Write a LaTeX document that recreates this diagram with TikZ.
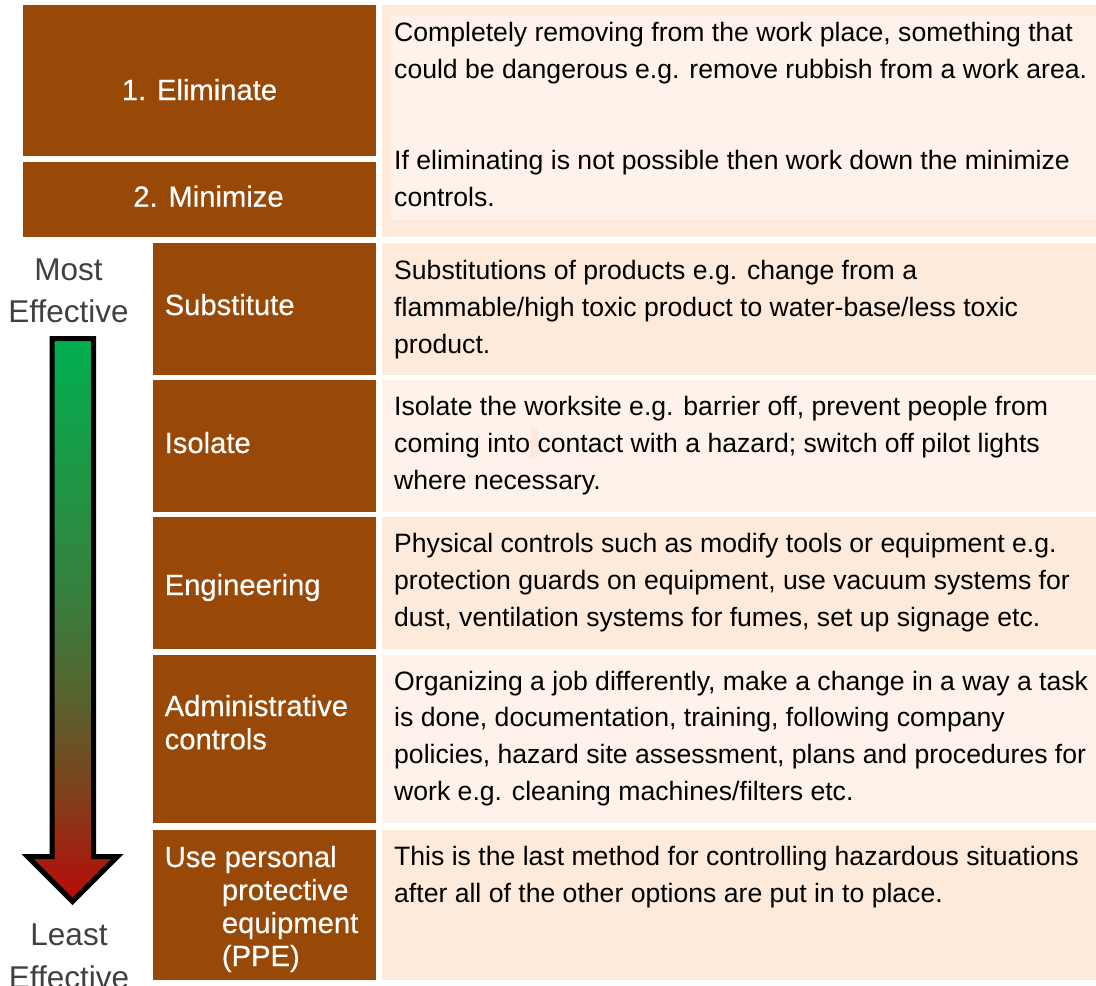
\documentclass[tikz,border=0pt]{standalone}
\usepackage{fontspec}
\setmainfont{Liberation Sans}
\newfontfamily\labfamily[FakeBold=0.4]{Liberation Sans}

\definecolor{ctrlbrown}{HTML}{984807}
\definecolor{banddark}{HTML}{FDEADA}
\definecolor{bandlight}{HTML}{FEF2EA}
\definecolor{sidegray}{HTML}{404040}
\definecolor{effgreen}{RGB}{0,176,80}
\definecolor{effmid}{RGB}{55,128,62}
\definecolor{effolive}{RGB}{90,96,45}
\definecolor{effbrown}{RGB}{125,66,28}
\definecolor{effred}{RGB}{185,10,8}

% green at the top fading through olive and brown to red at the tip
\pgfdeclareverticalshading{effgrad}{100bp}{%
  color(0bp)=(effred); color(25bp)=(effred); color(35bp)=(effbrown);
  color(42.5bp)=(effolive); color(52.5bp)=(effmid);
  color(75bp)=(effgreen); color(100bp)=(effgreen)}

\newcommand\bodyfont{\fontsize{26.6}{37}\selectfont}
\newcommand\labfont{\labfamily\fontsize{29.2}{33}\selectfont}
\newcommand\sidefont{\fontsize{31.5}{42}\selectfont}

% a filled cell given by its corners
\newcommand\cellbox[6]{%
  \node[#6, anchor=north west, minimum width={#4-#2}, minimum height={#5-#3}]
    (#1) at (#2,#3) {};}
% lines of text, one node per line, placed on successive baselines
\newcommand\textlines[6]{%
  \foreach \t [count=\i from 0] in {#6}
    {\node[#5] (#1-\i) at (#2, {#3+\i*#4}) {\t};}}

\begin{document}
\begin{tikzpicture}[x=1pt,y=-1pt,
  cellbase/.style={inner sep=0pt, outer sep=0pt, draw=none},
  brownbox/.style={cellbase, fill=ctrlbrown},
  darkcell/.style={cellbase, fill=banddark},
  lightcell/.style={cellbase, fill=bandlight},
  bodytext/.style={font=\bodyfont, text=black, inner sep=0pt, anchor=base west},
  labtext/.style={font=\labfont, text=white, inner sep=0pt, anchor=base west},
  labcenter/.style={font=\labfont, text=white, inner sep=0pt, anchor=base},
  sidetext/.style={font=\sidefont, text=sidegray, inner sep=0pt, anchor=base},
]
\useasboundingbox (0,0) rectangle (1096,986);

% control level boxes
\cellbox{elim}{22.7}{5}{376}{155.7}{brownbox}
\cellbox{mini}{22.7}{162}{376}{236.7}{brownbox}
\cellbox{subst}{152.7}{243.3}{376}{375}{brownbox}
\cellbox{isol}{152.7}{379.5}{376}{511.7}{brownbox}
\cellbox{engi}{152.7}{517}{376}{648.5}{brownbox}
\cellbox{admin}{152.7}{655}{376}{823}{brownbox}
\cellbox{ppe}{152.7}{830}{376}{980}{brownbox}

% description cells
\cellbox{elimd}{382}{5}{1096}{236.7}{darkcell}
\cellbox{elimin}{390.5}{16}{1096}{220}{lightcell}
\cellbox{substd}{382}{243.3}{1096}{375}{darkcell}
\cellbox{isold}{382}{379.5}{1096}{511.7}{lightcell}
\cellbox{engid}{382}{517}{1096}{648.5}{darkcell}
\cellbox{admind}{382}{655}{1096}{823}{lightcell}
\cellbox{pped}{382}{830}{1096}{980}{darkcell}
\cellbox{mark}{530}{427}{538}{458}{darkcell}

% labels of the levels
\node[labcenter] (elim-t) at (199.5,100) {1. Eliminate};
\node[labcenter] (mini-t) at (208.5,206.7) {2. Minimize};
\node[labtext] (subst-t) at (164.5,315) {Substitute};
\node[labtext] (isol-t) at (164.5,453) {Isolate};
\node[labtext] (engi-t) at (164.5,595) {Engineering};
\textlines{admin-t}{164.5}{716}{33.3}{labtext}{Administrative,controls}
\node[labtext] (ppe-t0) at (164.5,867) {Use personal};
\textlines{ppe-t}{221.7}{900}{33}{labtext}{protective,equipment,(PPE)}

% descriptions
\textlines{elim-d}{394}{41}{37}{bodytext}{%
  {Completely removing from the work place, something that},
  {could be dangerous e.g. remove rubbish from a work area.}}
\textlines{mini-d}{394}{169}{37}{bodytext}{%
  {If eliminating is not possible then work down the minimize},
  {controls.}}
\textlines{subst-d}{394}{279}{37}{bodytext}{%
  {Substitutions of products e.g. change from a},
  {flammable/high toxic product to water-base/less toxic},
  {product.}}
\textlines{isol-d}{394}{415}{37}{bodytext}{%
  {Isolate the worksite e.g. barrier off, prevent people from},
  {coming into contact with a hazard; switch off pilot lights},
  {where necessary.}}
\textlines{engi-d}{394}{552}{37}{bodytext}{%
  {Physical controls such as modify tools or equipment e.g.},
  {protection guards on equipment, use vacuum systems for},
  {dust, ventilation systems for fumes, set up signage etc.}}
\textlines{admin-d}{394}{690}{36.8}{bodytext}{%
  {Organizing a job differently, make a change in a way a task},
  {is done, documentation, training, following company},
  {policies, hazard site assessment, plans and procedures for},
  {work e.g. cleaning machines/filters etc.}}
\textlines{ppe-d}{394}{865}{37}{bodytext}{%
  {This is the last method for controlling hazardous situations},
  {after all of the other options are put in to place.}}

% effectiveness scale
\textlines{most}{68.5}{280.7}{42}{sidetext}{Most,Effective}
\textlines{least}{69}{945}{43}{sidetext}{Least,Effective}
\shadedraw[shading=effgrad, draw=black, line width=5pt, miter limit=10]
  (52,338.5) -- (93.5,338.5) -- (93.5,856.5) -- (117.5,856.5)
  -- (72.5,901.5) -- (27.5,856.5) -- (52,856.5) -- cycle;
\end{tikzpicture}
\end{document}
